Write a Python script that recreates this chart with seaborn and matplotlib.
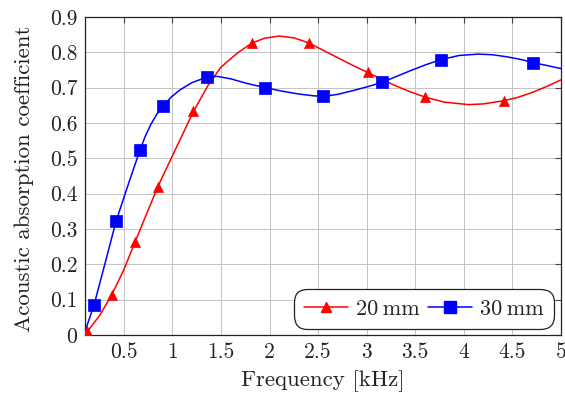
import numpy as np
import pandas as pd
import matplotlib
matplotlib.use("Agg")
import matplotlib.pyplot as plt
import seaborn as sns
from matplotlib.lines import Line2D
from matplotlib.ticker import FuncFormatter

# Acoustic absorption curves for two sample thicknesses
freq_20mm = [0.125, 0.25, 0.375, 0.5, 0.615, 0.73, 0.85, 1.0, 1.1, 1.217, 1.37,
             1.5, 1.664, 1.818, 1.95, 2.1, 2.25, 2.41, 2.55, 2.7, 2.85, 3.01,
             3.15, 3.3, 3.45, 3.605, 3.8, 4.05, 4.2, 4.41, 4.55, 4.7, 4.85, 5.0]
alpha_20mm = [0.01, 0.055, 0.113, 0.185, 0.263, 0.34, 0.42, 0.507, 0.565, 0.633, 0.708,
              0.758, 0.797, 0.826, 0.840, 0.846, 0.841, 0.826, 0.806, 0.785, 0.764, 0.743,
              0.724, 0.705, 0.688, 0.673, 0.659, 0.652, 0.654, 0.663, 0.672, 0.686, 0.703, 0.722]
marked_20mm = [0.125, 0.375, 0.615, 0.85, 1.217, 1.818, 2.41, 3.01, 3.605, 4.41]

freq_30mm = [0.1, 0.193, 0.3, 0.42, 0.55, 0.667, 0.72, 0.78, 0.84, 0.9, 0.99,
             1.08, 1.2, 1.355, 1.46, 1.6, 1.767, 1.956, 2.11, 2.3, 2.45, 2.55,
             2.7, 2.85, 3.0, 3.16, 3.3, 3.45, 3.6, 3.76, 3.95, 4.15, 4.3, 4.45,
             4.6, 4.71, 4.85, 5.0]
alpha_30mm = [0.01, 0.085, 0.196, 0.322, 0.43, 0.524, 0.562, 0.597, 0.625, 0.647, 0.674,
              0.694, 0.714, 0.730, 0.732, 0.725, 0.712, 0.700, 0.691, 0.682, 0.677, 0.675,
              0.681, 0.691, 0.702, 0.715, 0.731, 0.748, 0.764, 0.779, 0.791, 0.795, 0.793, 0.787,
              0.779, 0.771, 0.763, 0.754]
marked_30mm = [0.193, 0.42, 0.667, 0.9, 1.355, 1.956, 2.55, 3.16, 3.76, 4.71]

series_labels = ["20\u2009mm", "30\u2009mm"]
x_ticks = [0.5, 1, 1.5, 2, 2.5, 3, 3.5, 4, 4.5, 5]
y_ticks = [0, 0.1, 0.2, 0.3, 0.4, 0.5, 0.6, 0.7, 0.8, 0.9]

sns.set_theme(style="whitegrid")
plt.rcParams["font.family"] = ["cmr10", "DejaVu Serif"]
plt.rcParams["mathtext.fontset"] = "cm"
plt.rcParams["axes.formatter.use_mathtext"] = True
plt.rcParams["axes.unicode_minus"] = False

df20 = pd.DataFrame({"freq": freq_20mm, "alpha": alpha_20mm})
df30 = pd.DataFrame({"freq": freq_30mm, "alpha": alpha_30mm})
m20 = df20[np.isin(df20["freq"], marked_20mm)]
m30 = df30[np.isin(df30["freq"], marked_30mm)]

fig = plt.figure(figsize=(5.65, 3.94), dpi=100)
ax = fig.add_axes([0.1504, 0.1497, 0.8425, 0.8072])
ax.set_facecolor("white")

red, blue = "#ff0000", "#0000ff"
for df, col in ((df20, red), (df30, blue)):
    sns.lineplot(data=df, x="freq", y="alpha", color=col, lw=1.1, sort=False,
                 estimator=None, legend=False, ax=ax, zorder=3)
sns.scatterplot(data=m20, x="freq", y="alpha", marker="^", s=52, color=red,
                edgecolor=red, linewidth=0.5, legend=False, ax=ax, zorder=4)
sns.scatterplot(data=m30, x="freq", y="alpha", marker="s", s=70, color=blue,
                edgecolor=blue, linewidth=0.5, legend=False, ax=ax, zorder=4)

ax.set_xlim(0.1, 5)
ax.set_ylim(0, 0.9)
ax.set_xticks(x_ticks)
ax.set_yticks(y_ticks)
fmt = FuncFormatter(lambda v, p: f"{v:g}")
ax.xaxis.set_major_formatter(fmt)
ax.yaxis.set_major_formatter(fmt)

ax.grid(True, color="#c4c4c4", lw=0.7)
for s in ax.spines.values():
    s.set_color("#222222")
    s.set_linewidth(0.9)
ax.tick_params(direction="in", top=True, right=True, length=4, width=0.8,
               color="#444444", labelsize=15.5, pad=5.5, labelcolor="#222222")

ax.set_xlabel("Frequency [kHz]", fontsize=16.5, color="#222222")
ax.set_ylabel("Acoustic absorption coefficient", fontsize=16.5, color="#222222")
ax.xaxis.set_label_coords(0.5, -0.112)
ax.yaxis.set_label_coords(-0.108, 0.49)

handles = [
    Line2D([], [], color=red, lw=1.1, marker="^", markersize=7.2),
    Line2D([], [], color=blue, lw=1.1, marker="s", markersize=8.2),
]
leg = ax.legend(handles, series_labels, loc="lower right", bbox_to_anchor=(0.975, 0.034),
                borderaxespad=0, ncol=2, fontsize=16, frameon=True, fancybox=True,
                handlelength=2.0, handletextpad=0.35, columnspacing=0.35,
                borderpad=0.25, numpoints=1)
frame = leg.get_frame()
frame.set_edgecolor("#222222")
frame.set_linewidth(0.9)
frame.set_facecolor("white")
frame.set_alpha(1)
frame.set_boxstyle("round,pad=0.2,rounding_size=0.6")

fig.savefig("out.png", dpi=100, facecolor="white")
